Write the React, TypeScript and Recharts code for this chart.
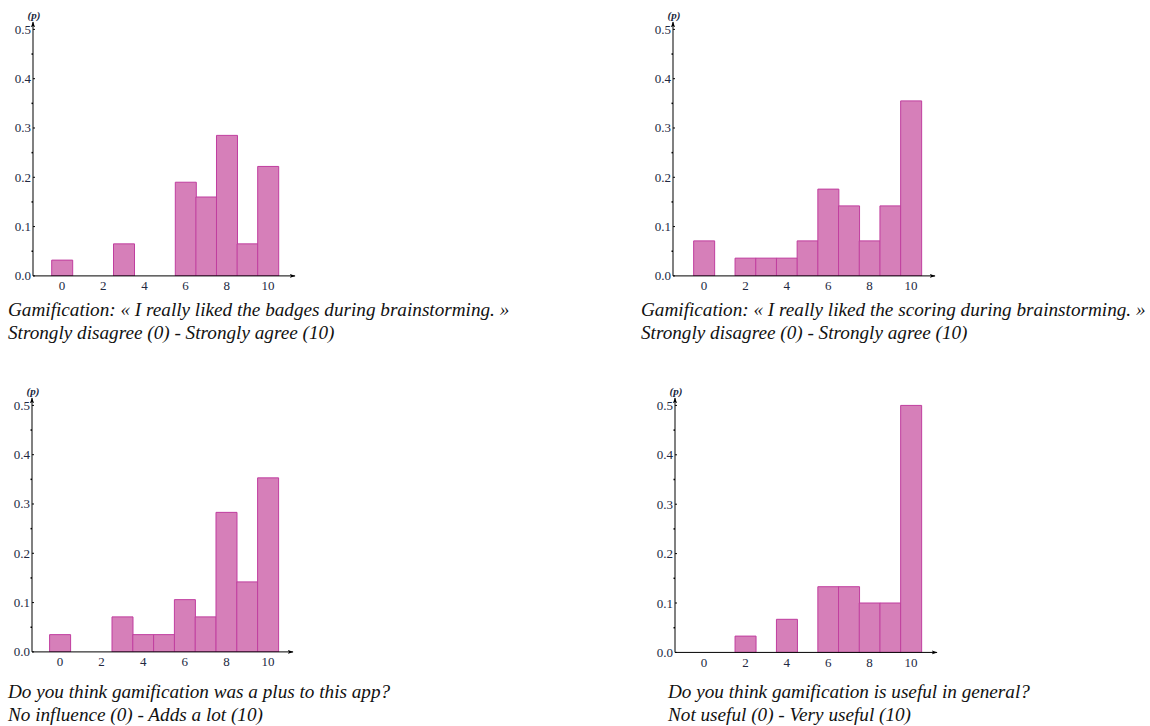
import React from 'react';
import { BarChart, Bar, XAxis, YAxis } from 'recharts';

const scores = [0, 1, 2, 3, 4, 5, 6, 7, 8, 9, 10];
const badges = [0.032, 0, 0, 0.065, 0, 0, 0.19, 0.16, 0.285, 0.065, 0.222];
const scoring = [0.071, 0, 0.036, 0.036, 0.036, 0.071, 0.176, 0.142, 0.071, 0.142, 0.355];
const plusApp = [0.035, 0, 0, 0.071, 0.035, 0.035, 0.106, 0.071, 0.283, 0.142, 0.353];
const usefulGeneral = [0, 0, 0.033, 0, 0.067, 0, 0.133, 0.133, 0.1, 0.1, 0.5];
const yTicks = [0, 0.05, 0.1, 0.15, 0.2, 0.25, 0.3, 0.35, 0.4, 0.45, 0.5];
const yAxisTitle = '(p)';

const captionBadges = [
  'Gamification: « I really liked the badges during brainstorming. »',
  'Strongly disagree (0) - Strongly agree (10)',
];
const captionScoring = [
  'Gamification: « I really liked the scoring during brainstorming. »',
  'Strongly disagree (0) - Strongly agree (10)',
];
const captionPlus = [
  'Do you think gamification was a plus to this app?',
  'No influence (0) - Adds a lot (10)',
];
const captionUseful = [
  'Do you think gamification is useful in general?',
  'Not useful (0) - Very useful (10)',
];

const Y_MAX = 0.515;
const FILL = '#d67fb9';
const STROKE = '#c03d9f';
const TICK_COLOR = '#22283f';
const SERIF = '"Liberation Serif", "Times New Roman", serif';

type Layout = {
  axisX: number;
  y0: number;
  y05: number;
  x0: number;
  x10: number;
  xEnd: number;
  capX: number;
  capTop: number;
};

function YTick(props: any) {
  const { x, y, payload } = props;
  const v = payload.value as number;
  const major = Math.round(v * 100) % 10 === 0;
  return (
    <g>
      {major ? (
        <line x1={x} x2={x + 2} y1={y} y2={y} stroke="#000" strokeWidth={1} />
      ) : (
        <line x1={x - 1.5} x2={x} y1={y} y2={y} stroke="#000" strokeWidth={1.5} />
      )}
      {major && (
        <text
          x={x - 2}
          y={y}
          dy={4.5}
          textAnchor="end"
          fill={TICK_COLOR}
          fontSize={13}
          fontFamily={SERIF}
        >
          {v.toFixed(1)}
        </text>
      )}
    </g>
  );
}

function Panel({ values, caption, L }: { values: number[]; caption: string[]; L: Layout }) {
  const data = scores.map((s, i) => ({ score: String(s), p: values[i] }));
  const unit = (L.y0 - L.y05) / 0.5;
  const plotH = unit * Y_MAX;
  const mTop = 12;
  const yW = 40;
  const xH = 26;
  const mRight = 10;
  const band = (L.x10 - L.x0) / 10;
  const plotW = L.xEnd - L.axisX;
  const padL = L.x0 - band / 2 - L.axisX;
  const padR = plotW - padL - 11 * band;
  const width = yW + plotW + mRight;
  const height = mTop + plotH + xH;
  const left = L.axisX - yW;
  const top = L.y0 - plotH - mTop;
  return (
    <>
      <div style={{ position: 'absolute', left, top }}>
        <BarChart
          width={width}
          height={height}
          data={data}
          margin={{ top: mTop, right: mRight, bottom: 0, left: 0 }}
          barCategoryGap={0}
          barGap={0}
        >
          <XAxis
            dataKey="score"
            interval={1}
            tickLine={false}
            tickSize={5}
            tickMargin={0}
            axisLine={{ stroke: '#000', strokeWidth: 1, markerEnd: 'url(#axisArrow)' } as any}
            padding={{ left: padL, right: padR }}
            height={xH}
            tick={{ fill: TICK_COLOR, fontSize: 13, fontFamily: SERIF }}
          />
          <YAxis
            type="number"
            domain={[0, Y_MAX]}
            ticks={yTicks}
            interval={0}
            width={yW}
            tickSize={0}
            tickMargin={0}
            tickLine={false}
            allowDataOverflow
            axisLine={{ stroke: '#000', strokeWidth: 1, markerStart: 'url(#axisArrow)' } as any}
            tick={<YTick />}
          />
          <Bar dataKey="p" fill={FILL} stroke={STROKE} strokeWidth={1} isAnimationActive={false} />
        </BarChart>
      </div>
      <div
        style={{
          position: 'absolute',
          left: L.axisX - 11,
          top: L.y05 - 20,
          width: 24,
          textAlign: 'center',
          fontFamily: SERIF,
          fontStyle: 'italic',
          fontWeight: 'bold',
          fontSize: 11,
          lineHeight: '11px',
          color: TICK_COLOR,
        }}
      >
        {yAxisTitle}
      </div>
      <div
        style={{
          position: 'absolute',
          left: L.capX,
          top: L.capTop,
          fontFamily: SERIF,
          fontStyle: 'italic',
          fontSize: 19.2,
          lineHeight: '23px',
          color: '#111',
          whiteSpace: 'nowrap',
        }}
      >
        {caption.map((c, i) => (
          <div key={i}>{c}</div>
        ))}
      </div>
    </>
  );
}

const L1: Layout = { axisX: 33, y0: 276, y05: 29.5, x0: 62, x10: 268, xEnd: 295, capX: 8, capTop: 297.5 };
const L2: Layout = { axisX: 673, y0: 276, y05: 29.5, x0: 704, x10: 911, xEnd: 935, capX: 641, capTop: 297.5 };
const L3: Layout = { axisX: 32, y0: 652, y05: 405.5, x0: 60, x10: 268, xEnd: 293, capX: 8, capTop: 680 };
const L4: Layout = { axisX: 675, y0: 652.5, y05: 405.5, x0: 704, x10: 911, xEnd: 937, capX: 668, capTop: 680 };

export default function App() {
  return (
    <div
      style={{
        position: 'absolute',
        left: 0,
        top: 0,
        width: 1150,
        height: 726,
        background: '#fff',
        overflow: 'hidden',
      }}
    >
      <svg width={0} height={0} style={{ position: 'absolute' }}>
        <defs>
          <marker
            id="axisArrow"
            viewBox="0 0 10 10"
            refX={9}
            refY={5}
            markerWidth={6}
            markerHeight={6}
            markerUnits="userSpaceOnUse"
            orient="auto-start-reverse"
          >
            <path d="M0,1.5 L10,5 L0,8.5 L2.5,5 z" fill="#000" />
          </marker>
        </defs>
      </svg>
      <Panel values={badges} caption={captionBadges} L={L1} />
      <Panel values={scoring} caption={captionScoring} L={L2} />
      <Panel values={plusApp} caption={captionPlus} L={L3} />
      <Panel values={usefulGeneral} caption={captionUseful} L={L4} />
    </div>
  );
}
